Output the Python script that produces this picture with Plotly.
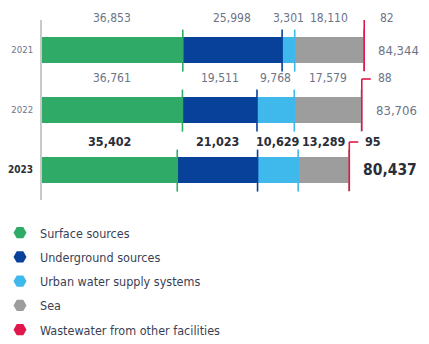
import plotly.graph_objects as go

years = ["2021", "2022", "2023"]
series_names = ["Surface sources", "Underground sources", "Urban water supply systems",
                "Sea", "Wastewater from other facilities"]
surface = [36853, 36761, 35402]
underground = [25998, 19511, 21023]
urban = [3301, 9768, 10629]
sea = [18110, 17579, 13289]
wastewater = [82, 88, 95]
totals = [84344, 83706, 80437]
total_labels = ["84,344", "83,706", "80,437"]

colors = ["#2fab67", "#07419a", "#3fb9ec", "#9d9d9d", "#e0174a"]
series = [surface, underground, urban, sea, wastewater]

FONT = "DejaVu Sans Condensed, DejaVu Sans, sans-serif"
GRAY_TXT = "#6d7486"
DARK_TXT = "#2a2e3a"
ROW_PX = 60  # pixel height of one category row

fig = go.Figure()
for name, vals, col in zip(series_names, series, colors):
    fig.add_trace(go.Bar(
        x=vals, y=years, orientation="h", name=name,
        marker=dict(color=col, line=dict(width=0)),
        width=0.42, showlegend=False, hoverinfo="x+name",
    ))
# legend entries with hexagon markers
for i, (name, col) in enumerate(zip(series_names, colors)):
    fig.add_trace(go.Scatter(
        x=[None], y=[None], mode="markers", name=name,
        marker=dict(symbol="hexagon2", size=13, color=col),
        legendgroup=f"g{i}", showlegend=True,
    ))

annotations = []
shapes = []
for i, yr in enumerate(years):
    last = (i == len(years) - 1)
    lift = 29 if last else 32
    seg_font = dict(family=FONT, size=12.5 if last else 12,
                    color=DARK_TXT if last else GRAY_TXT,
                    weight="bold" if last else "normal")
    cum = 0
    for k, (vals, col) in enumerate(zip(series, colors)):
        v = vals[i]
        start = cum
        cum += v
        if k < 4:
            annotations.append(dict(
                x=(start + cum) / 2, y=i, yshift=lift, text=f"{v:,}",
                showarrow=False, xanchor="center", yanchor="middle",
                font=seg_font,
            ))
            shapes.append(dict(
                type="line", xref="x", yref="y", x0=cum, x1=cum,
                y0=i - 0.34, y1=i + 0.36, line=dict(color=col, width=1.6),
            ))
        else:
            top = i - (lift - 1) / ROW_PX
            shapes.append(dict(
                type="line", xref="x", yref="y", x0=cum, x1=cum,
                y0=top, y1=i + 0.35, line=dict(color=col, width=1.6),
            ))
            shapes.append(dict(
                type="line", xref="x", yref="y", xsizemode="pixel", xanchor=cum,
                x0=0, x1=9, y0=top, y1=top, line=dict(color=col, width=1.6),
            ))
            annotations.append(dict(
                x=cum, xshift=14, y=i, yshift=lift, text=f"{v:,}",
                showarrow=False, xanchor="left", yanchor="middle",
                font=seg_font,
            ))
    annotations.append(dict(
        x=totals[i], xshift=12, y=i, text=total_labels[i],
        showarrow=False, xanchor="left", yanchor="middle",
        font=dict(family=FONT, size=15.5 if last else 13,
                  color=DARK_TXT if last else GRAY_TXT,
                  weight="bold" if last else "normal"),
    ))

ticktext = [f"<span style='color:{GRAY_TXT}'>{y}</span>" for y in years[:-1]] + \
           [f"<b><span style='color:{DARK_TXT};font-size:10px'>{years[-1]}</span></b>"]

fig.update_layout(
    width=429, height=344,
    margin=dict(l=42, r=0, t=0, b=0, autoexpand=False),
    paper_bgcolor="white", plot_bgcolor="white",
    barmode="stack", bargap=0,
    font=dict(family=FONT, color=GRAY_TXT),
    xaxis=dict(range=[0, 101300], visible=False, fixedrange=True),
    yaxis=dict(
        type="category", categoryorder="array", categoryarray=years,
        range=[2.5, -0.5], domain=[1 - 200 / 344, 1 - 20 / 344],
        showline=True, linecolor="#c9c9c9", linewidth=2,
        showgrid=False, zeroline=False, ticks="", ticklabelstandoff=5,
        tickvals=years, ticktext=ticktext,
        tickfont=dict(family=FONT, size=9.5),
    ),
    showlegend=True,
    legend=dict(
        x=-42 / 387, xanchor="left", y=1 - 218 / 344, yanchor="top",
        font=dict(family=FONT, size=12.5, color="#3a3f55"),
        tracegroupgap=5, itemclick=False, bgcolor="rgba(0,0,0,0)",
    ),
    annotations=annotations, shapes=shapes,
)

fig.write_html("out.html")
